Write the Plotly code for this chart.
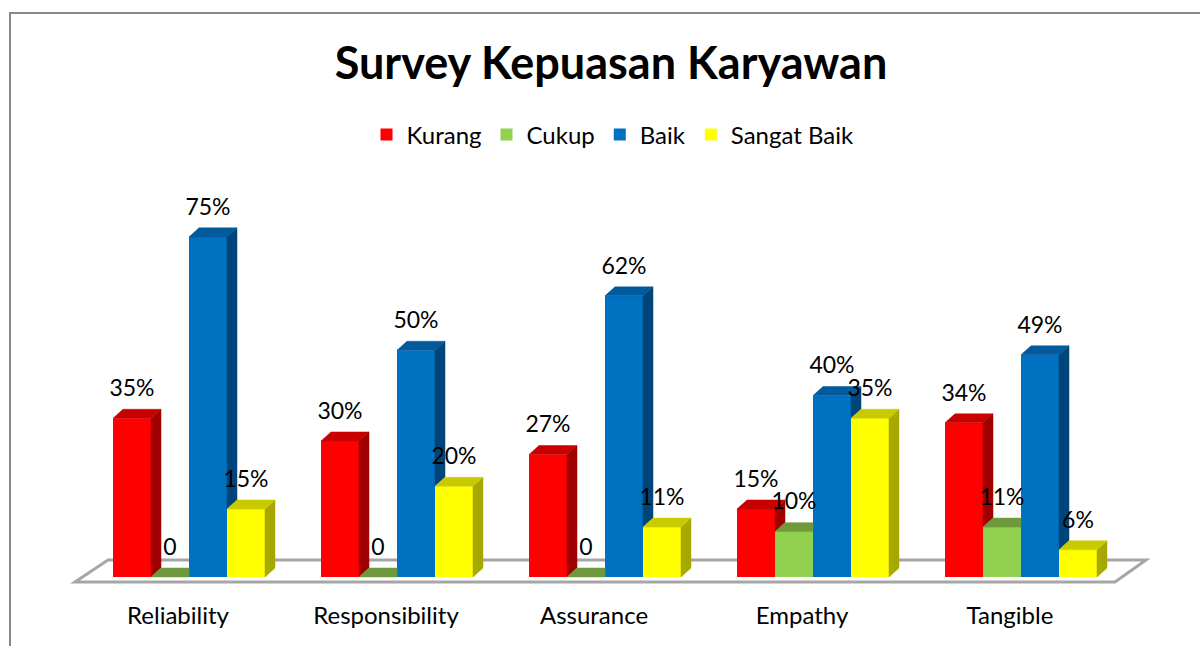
import plotly.graph_objects as go

# ---------------- data ----------------
categories = ["Reliability", "Responsibility", "Assurance", "Empathy", "Tangible"]
series_names = ["Kurang", "Cukup", "Baik", "Sangat Baik"]
kurang = [35, 30, 27, 15, 34]
cukup = [0, 0, 0, 10, 11]
baik = [75, 50, 62, 40, 49]
sangat_baik = [15, 20, 11, 35, 6]
series_values = [kurang, cukup, baik, sangat_baik]

# ---------------- style ----------------
front_colors = ["#FF0000", "#92D050", "#0070C0", "#FFFF00"]
side_colors = ["#A00000", "#5F8A30", "#00457A", "#A8A800"]
top_colors = ["#C80000", "#6E9A3C", "#005A9C", "#CACA00"]
FONT = "Lato, 'Noto Sans', sans-serif"

W_PX, H_PX = 1200, 646
M_L, M_R, M_T, M_B = 60, 40, 110, 54
PLOT_W = W_PX - M_L - M_R
PLOT_H = H_PX - M_T - M_B
TICK0_PX = 178          # pixel x of first category tick
CAT_PX = 208            # pixels per category
ZERO_PX = 577           # pixel y of value 0
VAL_PX = 4.535          # pixels per percent

X_RANGE = [(M_L - TICK0_PX) / CAT_PX, (M_L + PLOT_W - TICK0_PX) / CAT_PX]
Y_RANGE = [(ZERO_PX - (M_T + PLOT_H)) / VAL_PX, (ZERO_PX - M_T) / VAL_PX]

ux = 1.0 / CAT_PX   # data units per pixel (x)
uy = 1.0 / VAL_PX   # data units per pixel (y)
BW = 38 * ux        # bar width
OFF0 = -65 * ux     # left edge of first bar relative to tick
DX, DY = 10 * ux, 9 * uy  # 3D depth
LABEL_UP = 28 * uy

fig = go.Figure()

# floor (below everything)
fl_front_l, fl_front_r = -103 * ux, (len(categories) - 1) + 105 * ux
fl_back_l, fl_back_r = -70 * ux, (len(categories) - 1) + 136 * ux
fl_front_y, fl_back_y = -5 * uy, 17 * uy
floor_path = (f"M {fl_front_l},{fl_front_y} L {fl_front_r},{fl_front_y} "
              f"L {fl_back_r},{fl_back_y} L {fl_back_l},{fl_back_y} Z")
shapes = [dict(type="path", path=floor_path, xref="x", yref="y", layer="below",
               fillcolor="white", line=dict(color="#A6A6A6", width=3))]

# front faces as bars
for j, (name, vals) in enumerate(zip(series_names, series_values)):
    fig.add_trace(go.Bar(
        x=list(range(len(categories))), y=vals, name=name,
        offset=OFF0 + j * BW, width=BW,
        marker=dict(color=front_colors[j], line=dict(width=0)),
        hoverinfo="skip", showlegend=True,
    ))

# side and top faces
for j, vals in enumerate(series_values):
    sx, sy, tx, ty = [], [], [], []
    for i, v in enumerate(vals):
        x0 = i + OFF0 + j * BW
        x1 = x0 + BW
        vn = series_values[j + 1][i] if j + 1 < len(series_values) else None
        # side face (visible part)
        if v > 0 and (vn is None or vn < v):
            b = vn if vn is not None else 0
            sx += [x1, x1 + DX, x1 + DX, x1, x1, None]
            sy += [b, b + DY, v + DY, v, b, None]
        # top face
        if vn is not None and vn > v:
            tx += [x0, x0 + DX, x1, x1, x0, None]
            ty += [v, v + DY, v + DY, v, v, None]
        else:
            tx += [x0, x0 + DX, x1 + DX, x1, x0, None]
            ty += [v, v + DY, v + DY, v, v, None]
    fig.add_trace(go.Scatter(x=sx, y=sy, mode="lines", fill="toself",
                             fillcolor=side_colors[j],
                             line=dict(color=side_colors[j], width=0.5),
                             hoverinfo="skip", showlegend=False))
    fig.add_trace(go.Scatter(x=tx, y=ty, mode="lines", fill="toself",
                             fillcolor=top_colors[j],
                             line=dict(color=top_colors[j], width=0.5),
                             hoverinfo="skip", showlegend=False))

# data labels
for j, vals in enumerate(series_values):
    xs = [i + OFF0 + j * BW + BW / 2 for i in range(len(vals))]
    ys = [v + LABEL_UP for v in vals]
    txt = ["0" if v == 0 else f"{v}%" for v in vals]
    fig.add_trace(go.Scatter(x=xs, y=ys, mode="text", text=txt,
                             textposition="middle center",
                             textfont=dict(family=FONT, size=23, color="black"),
                             cliponaxis=False, hoverinfo="skip", showlegend=False))

# outer frame
def pxx(px):
    return (px - M_L) / PLOT_W

def pxy(py):
    return (M_T + PLOT_H - py) / PLOT_H

shapes.append(dict(type="path", xref="paper", yref="paper", layer="above",
                   path=f"M {pxx(10)},{pxy(H_PX + 5)} L {pxx(10)},{pxy(13)} L {pxx(W_PX + 5)},{pxy(13)}",
                   line=dict(color="#888888", width=2)))

fig.update_layout(
    width=W_PX, height=H_PX,
    margin=dict(l=M_L, r=M_R, t=M_T, b=M_B, autoexpand=False),
    paper_bgcolor="white", plot_bgcolor="white",
    barmode="overlay",
    title=dict(text="<b>Survey Kepuasan Karyawan</b>", x=611 / W_PX, xanchor="center",
               xref="container", y=1 - 63 / H_PX, yanchor="middle", yref="container",
               font=dict(family=FONT, size=45, color="black")),
    legend=dict(orientation="h", xref="container", yref="container",
                x=613 / W_PX, xanchor="center", y=1 - 135 / H_PX, yanchor="middle",
                font=dict(family=FONT, size=24, color="black"),
                itemclick=False, traceorder="normal"),
    xaxis=dict(range=X_RANGE, tickmode="array", tickvals=list(range(len(categories))),
               ticktext=categories, showgrid=False, zeroline=False, showline=False,
               ticks="outside", ticklen=2, tickcolor="rgba(0,0,0,0)",
               tickfont=dict(family=FONT, size=24, color="black"), fixedrange=True),
    yaxis=dict(range=Y_RANGE, visible=False, fixedrange=True),
    shapes=shapes,
    showlegend=True,
)

fig.write_html("out.html", config={"displayModeBar": False},
               post_script="document.body.style.margin='0px';")
